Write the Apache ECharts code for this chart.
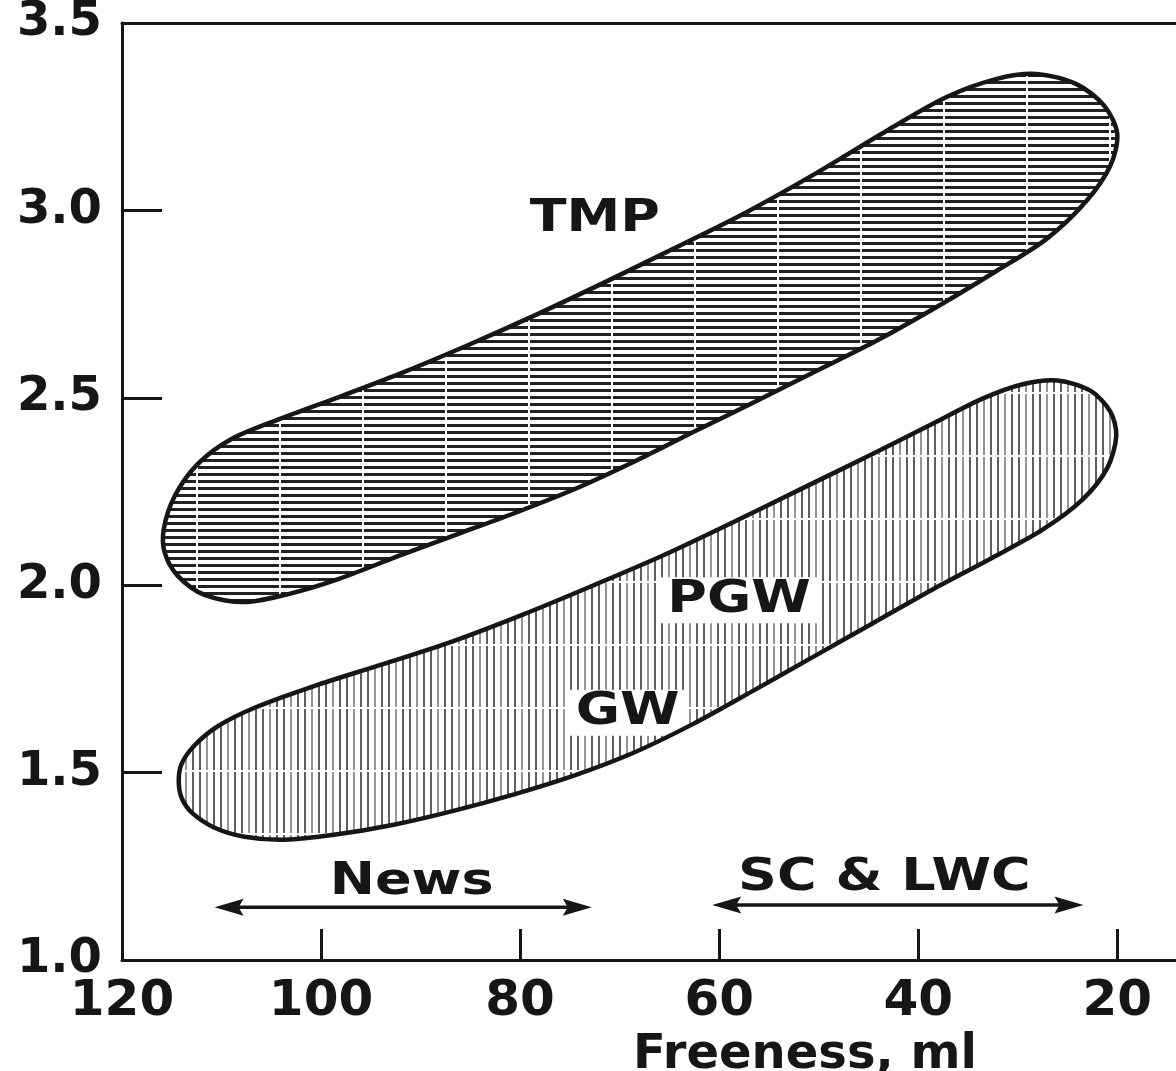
<!DOCTYPE html>
<html>
<head>
<meta charset="utf-8">
<script src="https://cdn.jsdelivr.net/npm/echarts@6/dist/echarts.min.js"></script>
<style>
  html, body { margin: 0; padding: 0; background: #fff; }
  #chart { width: 1176px; height: 1071px; }
</style>
</head>
<body>
<div id="chart"></div>
<script>
// outlines of the two bands, [freeness ml, value]
const tmpOutline = [
  [115.8, 2.150], [114.7, 2.238], [112.4, 2.323], [109.0, 2.390], [104.2, 2.443],
  [98.2, 2.502], [92.2, 2.563], [85.2, 2.641], [78.2, 2.724], [71.2, 2.812],
  [64.2, 2.903], [57.2, 2.996], [50.2, 3.100], [43.2, 3.212], [37.1, 3.303],
  [32.1, 3.351], [28.1, 3.364], [24.1, 3.337], [21.3, 3.279], [20.0, 3.204],
  [20.7, 3.119], [23.1, 3.025], [27.1, 2.924], [32.1, 2.839], [38.1, 2.743],
  [44.2, 2.652], [50.2, 2.572], [56.2, 2.492], [62.2, 2.414], [68.2, 2.334],
  [74.2, 2.260], [80.2, 2.196], [86.2, 2.137], [92.2, 2.078], [98.2, 2.017],
  [103.2, 1.977], [107.7, 1.955], [111.7, 1.974], [114.4, 2.025], [115.7, 2.086]
];
const pgwOutline = [
  [114.3, 1.478], [114.0, 1.524], [112.7, 1.573], [110.3, 1.625], [106.5, 1.675],
  [100.7, 1.731], [93.7, 1.790], [86.7, 1.851], [79.6, 1.923], [72.6, 2.000],
  [65.6, 2.080], [58.6, 2.168], [51.6, 2.259], [44.6, 2.350], [38.6, 2.430],
  [33.6, 2.497], [29.5, 2.536], [26.0, 2.546], [22.7, 2.519], [20.7, 2.463],
  [20.1, 2.399], [21.0, 2.313], [23.5, 2.228], [27.5, 2.148], [32.5, 2.074],
  [38.6, 1.988], [44.6, 1.898], [50.6, 1.808], [56.6, 1.718], [62.6, 1.630],
  [68.6, 1.553], [74.6, 1.492], [80.6, 1.442], [86.7, 1.398], [92.7, 1.361],
  [98.7, 1.334], [103.7, 1.321], [107.7, 1.329], [110.7, 1.353], [112.9, 1.391],
  [114.0, 1.432]
];

const labelNames = ['TMP', 'PGW', 'GW', 'News', 'SC & LWC'];
const labelX = [72.5, 58.0, 69.2, 90.9, 43.4];
const labelY = [2.977, 1.960, 1.660, 1.208, 1.219];
const boxedLabels = ['PGW', 'GW'];

// grade ranges (arrows): from, to, at height
const rangeFrom = [110.7, 60.7];
const rangeTo = [72.8, 23.4];
const rangeY = [1.141, 1.147];

const xTickValues = [120, 100, 80, 60, 40, 20];

const FONT = "'DejaVu Sans', sans-serif";
const INK = '#161616';

function makeHatch(w, h, draw) {
  const c = document.createElement('canvas');
  c.width = w;
  c.height = h;
  const ctx = c.getContext('2d');
  ctx.fillStyle = '#fff';
  ctx.fillRect(0, 0, w, h);
  draw(ctx);
  return { image: c, repeat: 'repeat' };
}

// TMP: dense horizontal lines with faint vertical breaks
const hHatch = makeHatch(83, 7, (ctx) => {
  ctx.fillStyle = '#222';
  ctx.fillRect(0, 4, 83, 3);
  ctx.fillStyle = '#fff';
  ctx.fillRect(30, 0, 2, 7);
});

// PGW / GW: grey vertical lines with faint horizontal breaks
const vHatch = makeHatch(21, 63, (ctx) => {
  ctx.fillStyle = '#5e5e5e';
  ctx.fillRect(3, 0, 2, 63);
  ctx.fillRect(10, 0, 2, 63);
  ctx.fillStyle = '#969696';
  ctx.fillRect(17, 0, 2, 63);
  ctx.fillStyle = '#fff';
  ctx.fillRect(0, 14, 21, 2);
});

// fill pass (under the labels) or outline pass (over them)
function blobSeries(name, outline, fill, z) {
  return {
    type: 'custom',
    name,
    silent: true,
    coordinateSystem: 'cartesian2d',
    data: outline,
    z,
    renderItem: (params, api) => {
      if (params.dataIndex !== 0) return null;
      const points = outline.map((p) => api.coord(p));
      return {
        type: 'polygon',
        shape: { points, smooth: 0.3 },
        style: fill
          ? { fill, stroke: null }
          : { fill: null, stroke: INK, lineWidth: 4.5 }
      };
    }
  };
}

const chart = echarts.init(document.getElementById('chart'));

chart.setOption({
  animation: false,
  backgroundColor: '#fff',
  grid: { left: 122, right: 0, top: 23, bottom: 111, containLabel: false, outerBoundsMode: 'none' },
  xAxis: [{
    type: 'value',
    inverse: true,
    min: 14.1,
    max: 120,
    name: 'Freeness, ml',
    nameLocation: 'middle',
    nameGap: 52,
    nameTextStyle: {
      fontFamily: FONT, fontWeight: 'bold', fontSize: 48, color: INK,
      padding: [0, 0, 0, 312]
    },
    axisLine: { lineStyle: { color: INK, width: 3 } },
    axisTick: { inside: true, length: 31, lineStyle: { color: INK, width: 3 }, customValues: xTickValues },
    axisLabel: {
      fontFamily: FONT, fontWeight: 'bold', fontSize: 50, color: INK, margin: 17,
      customValues: xTickValues
    },
    splitLine: { show: false }
  }, {
    type: 'value',
    position: 'top',
    inverse: true,
    min: 14.1,
    max: 120,
    axisLine: { lineStyle: { color: INK, width: 3 } },
    axisTick: { show: false },
    axisLabel: { show: false },
    splitLine: { show: false }
  }],
  yAxis: {
    type: 'value',
    min: 1,
    max: 3.5,
    interval: 0.5,
    axisLine: { show: true, lineStyle: { color: INK, width: 3 } },
    axisTick: { show: true, inside: true, length: 40, lineStyle: { color: INK, width: 3 } },
    axisLabel: {
      fontFamily: FONT, fontWeight: 'bold', fontSize: 48, color: INK, margin: 20,
      formatter: (v) => v.toFixed(1)
    },
    splitLine: { show: false }
  },
  series: [
    blobSeries('TMP', tmpOutline, hHatch, 2),
    blobSeries('PGW', pgwOutline, vHatch, 2),
    {
      type: 'custom',
      name: 'ranges',
      silent: true,
      coordinateSystem: 'cartesian2d',
      encode: { x: [0, 1], y: 2 },
      data: rangeFrom.map((v, i) => [v, rangeTo[i], rangeY[i]]),
      renderItem: (params, api) => {
        const a = api.coord([api.value(0), api.value(2)]);
        const b = api.coord([api.value(1), api.value(2)]);
        const dir = b[0] > a[0] ? 1 : -1;
        const len = 29;
        const half = 8.5;
        const head = (tip, d) => ({
          type: 'polygon',
          shape: { points: [tip, [tip[0] + d * len, tip[1] - half], [tip[0] + d * (len - 5), tip[1]], [tip[0] + d * len, tip[1] + half]] },
          style: { fill: INK }
        });
        return {
          type: 'group',
          children: [
            {
              type: 'line',
              shape: { x1: a[0] + dir * 20, y1: a[1], x2: b[0] - dir * 20, y2: b[1] },
              style: { stroke: INK, lineWidth: 3.5 }
            },
            head(a, dir),
            head(b, -dir)
          ]
        };
      }
    },
    {
      type: 'custom',
      name: 'labels',
      silent: true,
      coordinateSystem: 'cartesian2d',
      data: labelNames.map((n, i) => [labelX[i], labelY[i]]),
      renderItem: (params, api) => {
        const p = api.coord([api.value(0), api.value(1)]);
        const text = labelNames[params.dataIndex];
        const boxed = boxedLabels.includes(text);
        return {
          type: 'text',
          x: p[0],
          y: p[1],
          scaleX: 1.2,
          style: {
            text,
            fill: INK,
            font: `bold 45px ${FONT}`,
            lineHeight: 40,
            align: 'center',
            verticalAlign: 'middle',
            backgroundColor: boxed ? '#fff' : 'transparent',
            padding: boxed ? [3, 7] : 0
          }
        };
      },
      z: 5
    },
    blobSeries('TMP outline', tmpOutline, null, 6),
    blobSeries('PGW outline', pgwOutline, null, 6)
  ]
});
</script>
</body>
</html>
